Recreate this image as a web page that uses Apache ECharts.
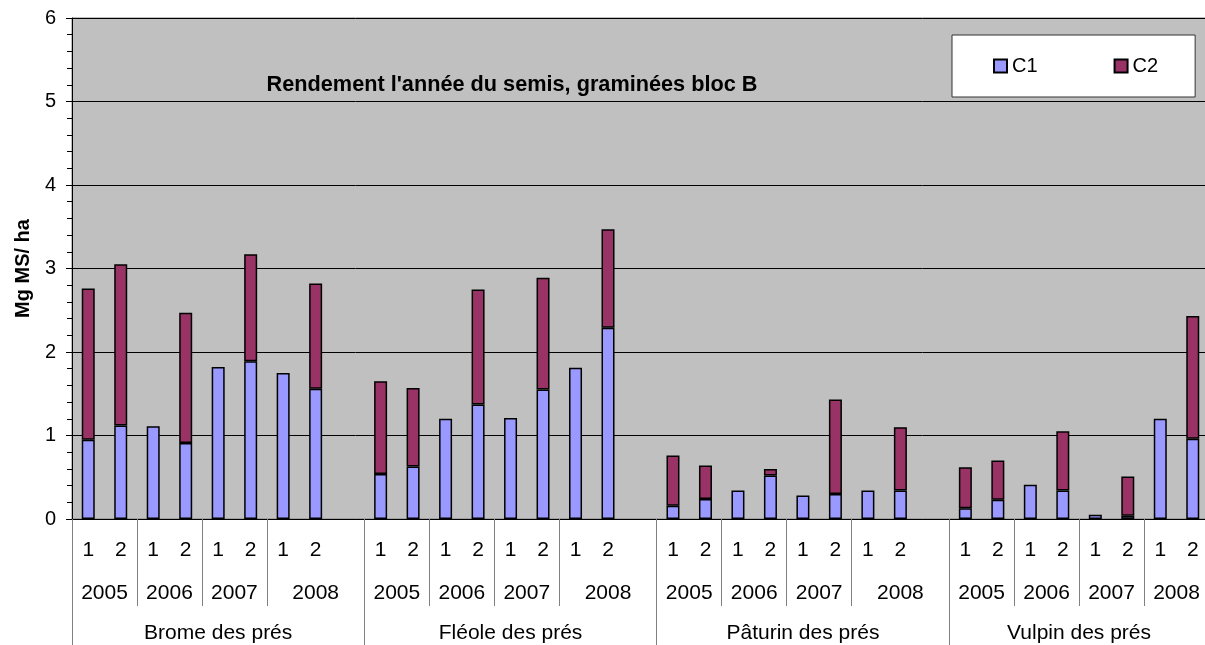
<!DOCTYPE html>
<html>
<head>
<meta charset="utf-8">
<script src="https://cdn.jsdelivr.net/npm/echarts@6/dist/echarts.min.js"></script>
<style>
  html, body { margin: 0; padding: 0; background: #fff; }
  #chart { width: 1205px; height: 645px; }
</style>
</head>
<body>
<div id="chart"></div>
<script>
// categories
const species = ['Brome des prés', 'Fléole des prés', 'Pâturin des prés', 'Vulpin des prés'];
const years = ['2005', '2006', '2007', '2008'];
const cuts = ['1', '2'];

// C1 / C2 yields (Mg MS/ha), 8 bars per species: 2005-1, 2005-2, ... 2008-2
const c1Brome = [0.95, 1.12, 1.11, 0.91, 1.82, 1.89, 1.75, 1.56];
const c2Brome = [1.81, 1.93, null, 1.56, null, 1.28, null, 1.26];
const c1Fleole = [0.54, 0.63, 1.20, 1.37, 1.21, 1.55, 1.81, 2.29];
const c2Fleole = [1.11, 0.94, null, 1.38, null, 1.34, null, 1.18];
const c1Paturin = [0.16, 0.24, 0.34, 0.52, 0.28, 0.30, 0.34, 0.34];
const c2Paturin = [0.60, 0.40, null, 0.08, null, 1.13, null, 0.76];
const c1Vulpin = [0.13, 0.23, 0.41, 0.34, 0.05, 0.04, 1.20, 0.96];
const c2Vulpin = [0.49, 0.47, null, 0.71, null, 0.47, null, 1.47];

const c1Groups = [c1Brome, c1Fleole, c1Paturin, c1Vulpin];
const c2Groups = [c2Brome, c2Fleole, c2Paturin, c2Vulpin];

// build flat category list: 8 bars per species, one empty slot between species
const cutLabels = [], c1 = [], c2 = [];
const yearSpans = [], groupSpans = [];
species.forEach((sp, g) => {
  const s = cutLabels.length;
  years.forEach(() => cuts.forEach(c => cutLabels.push(c)));
  c1Groups[g].forEach(v => c1.push(v));
  c2Groups[g].forEach(v => c2.push(v));
  const last = g === species.length - 1;
  if (!last) { cutLabels.push(''); c1.push(null); c2.push(null); }
  years.forEach((y, i) => {
    const end = (i === years.length - 1) ? (last ? s + 8 : s + 9) : s + 2 * i + 2;
    yearSpans.push([s + 2 * i, end, y]);
  });
  groupSpans.push([s, last ? s + 8 : s + 9, sp]);
});
const nCat = cutLabels.length;

// helper axes: 2*nCat+1 points at half-category steps
function spanAxisData(spans) {
  const arr = new Array(2 * nCat + 1).fill('');
  spans.forEach(([a, b, t]) => { arr[a + b] = t; });
  return arr;
}
const yearTickIdx = new Set();
yearSpans.forEach(([a]) => { if (!groupSpans.some(gs => gs[0] === a)) yearTickIdx.add(2 * a); });
const groupTickIdx = new Set();
groupSpans.forEach(([a, b]) => { groupTickIdx.add(2 * a); groupTickIdx.add(2 * b); });

const FONT = 'Liberation Sans, Arial, sans-serif';
const chart = echarts.init(document.getElementById('chart'));

chart.setOption({
  animation: false,
  backgroundColor: '#fff',
  textStyle: { fontFamily: FONT, color: '#000' },
  title: {
    text: "Rendement l'année du semis, graminées bloc B",
    left: 512, top: 74, textAlign: 'center', padding: 0,
    textStyle: { fontSize: 21.7, fontWeight: 'bold', color: '#000', fontFamily: FONT }
  },
  legend: {
    left: 952, top: 35,
    padding: [21, 37, 21, 41],
    itemGap: 76,
    itemWidth: 13, itemHeight: 13,
    icon: 'rect',
    backgroundColor: '#fff',
    borderColor: '#333', borderWidth: 1,
    textStyle: { fontSize: 20, color: '#000', fontFamily: FONT },
    data: ['C1', 'C2']
  },
  grid: {
    left: 72, top: 18, width: 1137, height: 501,
    outerBoundsMode: 'none', containLabel: false,
    show: true, backgroundColor: '#C0C0C0', borderColor: '#808080', borderWidth: 1
  },
  xAxis: [
    {
      type: 'category', position: 'bottom', data: cutLabels,
      axisLine: { lineStyle: { color: '#000' } },
      axisTick: { interval: 0, length: 44, lineStyle: { color: '#000' } },
      axisLabel: { interval: 0, margin: 21, fontSize: 21, color: '#000', fontFamily: FONT },
      splitLine: { show: false }
    },
    {
      type: 'category', position: 'bottom', boundaryGap: false,
      data: spanAxisData(yearSpans),
      axisLine: { show: false },
      axisTick: { show: true, length: 87, interval: (i) => yearTickIdx.has(i), lineStyle: { color: '#808080' } },
      axisLabel: { interval: 0, margin: 64, fontSize: 21, color: '#000', fontFamily: FONT },
      splitLine: { show: false }
    },
    {
      type: 'category', position: 'bottom', boundaryGap: false,
      data: spanAxisData(groupSpans),
      axisLine: { show: false },
      axisTick: { show: true, length: 130, interval: (i) => groupTickIdx.has(i), lineStyle: { color: '#808080' } },
      axisLabel: { interval: 0, margin: 104, fontSize: 21, color: '#000', fontFamily: FONT },
      splitLine: { show: false }
    }
  ],
  yAxis: {
    type: 'value', min: 0, max: 6, interval: 1,
    name: 'Mg MS/ ha', nameLocation: 'middle', nameGap: 38,
    nameTextStyle: { fontSize: 20, fontWeight: 'bold', color: '#000', fontFamily: FONT },
    axisLine: { show: true, lineStyle: { color: '#000' } },
    axisTick: { show: true, length: 6, lineStyle: { color: '#000' } },
    minorTick: { show: true, splitNumber: 5, length: 5, lineStyle: { color: '#000' } },
    axisLabel: { margin: 16, fontSize: 20, color: '#000', fontFamily: FONT },
    splitLine: { lineStyle: { color: '#000', width: 1 } }
  },
  series: [
    {
      name: 'C1', type: 'bar', stack: 'tot', barWidth: 13,
      itemStyle: { color: '#9999FF', borderColor: '#000', borderWidth: 1.5 },
      data: c1
    },
    {
      name: 'C2', type: 'bar', stack: 'tot', barWidth: 13,
      itemStyle: { color: '#993366', borderColor: '#000', borderWidth: 1.5 },
      data: c2
    }
  ]
});
</script>
</body>
</html>
